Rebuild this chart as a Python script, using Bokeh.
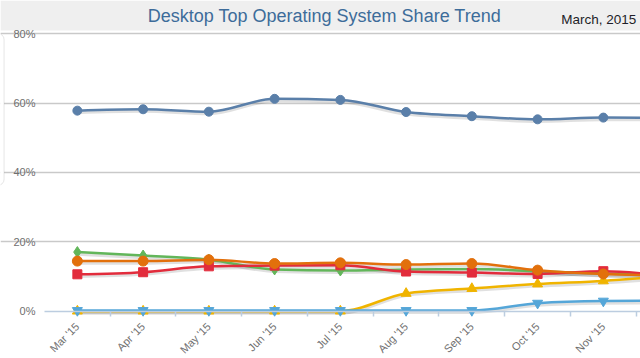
import numpy as np
from bokeh.plotting import figure
from bokeh.models import (FixedTicker, BoxAnnotation, Label, PrintfTickFormatter,
                          ColumnDataSource)
from bokeh.transform import dodge
from bokeh.embed import file_html
from bokeh.resources import INLINE

# ---- data (percent share) ----
months = ["Mar '15", "Apr '15", "May '15", "Jun '15", "Jul '15",
          "Aug '15", "Sep '15", "Oct '15", "Nov '15", "Dec '15"]
win7   = [57.8, 58.2, 57.5, 61.2, 60.9, 57.4, 56.2, 55.3, 55.8, 55.7]
winxp  = [17.1, 16.1, 14.9, 12.1, 11.8, 12.1, 12.2, 11.6, 10.9, 10.5]
win81  = [14.5, 14.5, 14.9, 13.8, 14.0, 13.5, 13.8, 11.9, 10.8, 10.4]
win8   = [10.7, 11.3, 13.0, 13.2, 13.3, 11.5, 11.2, 10.8, 11.6, 10.2]
win10  = [0.1, 0.1, 0.1, 0.1, 0.1, 5.2, 6.6, 7.9, 8.8, 10.2]
osx    = [0.3, 0.3, 0.3, 0.3, 0.3, 0.3, 0.3, 2.4, 3.0, 3.1]
y_ticks = [0, 20, 40, 60, 80]

FONT = "Liberation Sans"

xs = np.arange(len(months)) + 0.5


def monotone_source(x, y):
    x = np.asarray(x, float)
    y = np.asarray(y, float)
    n = len(x)
    h = np.diff(x)
    s = np.diff(y) / h
    t = np.zeros(n)
    sg = lambda v: -1.0 if v < 0 else 1.0
    for i in range(1, n - 1):
        s0, s1 = s[i - 1], s[i]
        p = (s0 * h[i] + s1 * h[i - 1]) / (h[i - 1] + h[i])
        t[i] = (sg(s0) + sg(s1)) * min(abs(s0), abs(s1), 0.5 * abs(p))
    t[0] = (3 * s[0] - t[1]) / 2
    t[-1] = (3 * s[-1] - t[-2]) / 2
    dx = h / 3
    return ColumnDataSource(dict(
        x0=x[:-1], y0=y[:-1], x1=x[1:], y1=y[1:],
        cx0=x[:-1] + dx, cy0=y[:-1] + dx * t[:-1],
        cx1=x[1:] - dx, cy1=y[1:] - dx * t[1:]))


W, H = 640, 358
p = figure(width=W, height=H, output_backend="svg", toolbar_location=None,
           x_range=(-0.669, 9.065), y_range=(-13.53, 89.5),
           min_border_left=0, min_border_right=0, min_border_top=0,
           min_border_bottom=0)
p.outline_line_color = None
p.background_fill_color = "white"
p.border_fill_color = "white"

# header strip and texts
p.add_layout(BoxAnnotation(bottom=80.9, fill_color="#efefef", fill_alpha=1,
                           line_color=None, level="underlay"))
p.add_layout(Label(x=4.26, y=84.9, text="Desktop Top Operating System Share Trend",
                   text_align="center", text_baseline="alphabetic",
                   text_font=FONT, text_font_size="18px", text_color="#3d6c9a"))
p.add_layout(Label(x=7.86, y=84.0, text="March, 2015", text_align="left",
                   text_baseline="alphabetic", text_font=FONT,
                   text_font_size="13.5px", text_color="#1e1e28"))

# legend frame edge (legend itself lies outside the visible area)
p.add_layout(BoxAnnotation(left=-1.2, right=-0.615, top=80.0, bottom=36.3,
                           fill_color="white", fill_alpha=1, line_color="#a8a8a8",
                           line_width=1, border_radius=6, level="underlay"))

# axes
xa = p.xaxis[0]
xa.ticker = FixedTicker(ticks=list(xs), minor_ticks=list(range(1, len(months))))
xa.major_label_overrides = {float(v): m for v, m in zip(xs, months)}
xa.major_label_orientation = np.pi / 4
xa.fixed_location = 0
xa.bounds = (0, len(months))
xa.axis_line_color = "#bccde0"
xa.axis_line_width = 1.5
xa.major_tick_line_color = None
xa.major_tick_out = 0
xa.major_tick_in = 0
xa.minor_tick_line_color = "#bccde0"
xa.minor_tick_line_width = 1.5
xa.minor_tick_out = 5
xa.minor_tick_in = 0
xa.major_label_standoff = 8
xa.major_label_text_font = FONT
xa.major_label_text_font_size = "11px"
xa.major_label_text_color = "#6f6f6f"

ya = p.yaxis[0]
ya.ticker = FixedTicker(ticks=y_ticks)
ya.formatter = PrintfTickFormatter(format="%d%%")
ya.fixed_location = 0
ya.axis_line_color = None
ya.major_tick_line_color = None
ya.minor_tick_line_color = None
ya.major_tick_out = 0
ya.major_tick_in = 0
ya.major_label_standoff = 9
ya.major_label_text_font = FONT
ya.major_label_text_font_size = "11px"
ya.major_label_text_color = "#6f6f6f"

p.xgrid.visible = False
p.ygrid.ticker = FixedTicker(ticks=y_ticks[1:])
p.ygrid.bounds = (0, len(months))
p.ygrid.grid_line_color = "#c9c9c9"
p.ygrid.grid_line_width = 1.5

series = [
    (win10, "#f0b400", "triangle", 10),
    (osx, "#55a6d8", "inverted_triangle", 10),
    (winxp, "#62b65a", "diamond", 11),
    (win8, "#e22c3c", "square", 9),
    (win81, "#e2700c", "circle", 10),
    (win7, "#5a7fa9", "circle", 9),
]

# soft shadows under the lines
for vals, col, mk, sz in series:
    src = monotone_source(xs, vals)
    p.bezier(x0="x0", x1="x1", cx0="cx0", cx1="cx1",
             y0=dodge("y0", -0.6, range=p.y_range), y1=dodge("y1", -0.6, range=p.y_range),
             cy0=dodge("cy0", -0.6, range=p.y_range), cy1=dodge("cy1", -0.6, range=p.y_range),
             source=src, line_color="#000000", line_alpha=0.12, line_width=3)

for vals, col, mk, sz in series:
    src = monotone_source(xs, vals)
    p.bezier(x0="x0", y0="y0", x1="x1", y1="y1", cx0="cx0", cy0="cy0",
             cx1="cx1", cy1="cy1", source=src, line_color=col, line_width=2.5)
    p.scatter(xs, vals, marker=mk, size=sz, fill_color=col, line_color=col)

open("out.html", "w").write(file_html(p, INLINE))
